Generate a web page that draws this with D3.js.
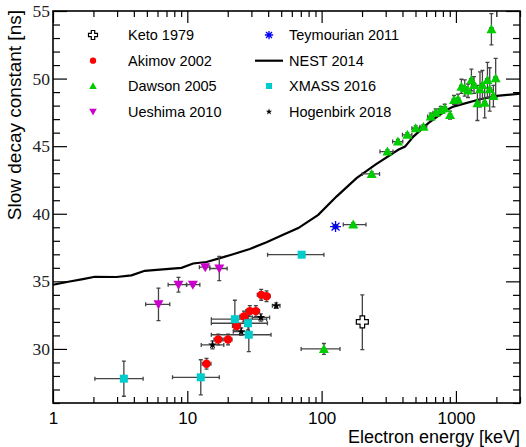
<!DOCTYPE html>
<html>
<head>
<meta charset="utf-8">
<script src="https://cdn.jsdelivr.net/npm/d3@7"></script>
<style>
  body { margin: 0; background: #fff; }
  svg { display: block; }
</style>
</head>
<body>
<div id="chart"></div>
<script>
// rows: energy [keV], tau [ns], energy low, energy high, tau low, tau high
var keto = [
    [201, 32.0, 201, 201, 29.95, 34.0]
];
var akimov = [
    [13.9, 28.9, 12.9, 15.0, 28.5, 29.3],
    [17.0, 30.7, 15.8, 18.2, 30.3, 31.1],
    [20.1, 30.7, 18.7, 21.5, 30.3, 31.1],
    [23.3, 31.7, 21.7, 24.9, 31.3, 32.1],
    [26.4, 32.4, 24.6, 28.2, 32.0, 32.8],
    [29.2, 32.8, 27.3, 31.1, 32.4, 33.2],
    [32.4, 32.8, 30.3, 34.5, 32.4, 33.2],
    [35.5, 34.0, 33.2, 37.8, 33.6, 34.4],
    [38.9, 33.9, 36.4, 41.4, 33.5, 34.3]
];
var dawson = [
    [104, 30.0, 70.4, 137, 29.6, 30.4],
    [172, 39.2, 145, 214, 39.05, 39.35],
    [236, 42.95, 201, 270, 42.8, 43.1],
    [309, 44.6, 272, 340, 44.45, 44.75],
    [370, 45.34, 338, 402, 45.15, 45.5],
    [435, 45.84, 400, 470, 45.65, 46.0],
    [502, 46.33, 470, 535, 46.15, 46.5],
    [573, 46.43, 540, 606, 46.25, 46.6],
    [649, 47.19, 615, 683, 46.95, 47.45],
    [707, 47.48, 675, 740, 47.25, 47.75],
    [771, 47.68, 740, 800, 47.4, 47.95],
    [826, 47.81, 800, 852, 47.55, 48.1],
    [904, 47.31, 880, 928, 47.0, 47.6],
    [968, 48.42, 940, 996, 48.1, 48.75],
    [1037, 48.47, 1006, 1068, 48.1, 48.85],
    [1099, 49.4, 1066, 1132, 48.9, 49.95],
    [1163, 49.29, 1128, 1198, 48.7, 49.9],
    [1231, 49.11, 1194, 1268, 48.6, 49.6],
    [1304, 49.9, 1265, 1343, 49.1, 50.7],
    [1364, 49.53, 1323, 1405, 48.9, 50.15],
    [1445, 48.18, 1402, 1488, 46.9, 49.5],
    [1511, 49.21, 1466, 1556, 47.9, 50.5],
    [1575, 49.53, 1528, 1622, 48.5, 50.6],
    [1638, 48.22, 1589, 1687, 47.1, 49.3],
    [1717, 49.9, 1666, 1768, 48.6, 51.2],
    [1785, 49.21, 1731, 1839, 47.6, 50.8],
    [1838, 53.65, 1783, 1893, 52.5, 54.8],
    [1901, 48.72, 1844, 1958, 47.9, 49.5],
    [1977, 50.03, 1918, 2036, 48.6, 51.5]
];
var ueshima = [
    [6.1, 33.3, 4.9, 7.4, 32.1, 34.5],
    [8.6, 34.75, 7.2, 9.9, 34.2, 35.3],
    [11.0, 34.75, 9.85, 12.4, 34.65, 34.85],
    [13.6, 36.05, 12.3, 14.7, 35.95, 36.15],
    [17.3, 35.95, 14.7, 19.8, 35.05, 36.85]
];
var teymourian = [
    [127, 39.05, 122, 132, 38.9, 39.2]
];
var xmass = [
    [3.37, 27.8, 2.05, 4.69, 26.5, 29.1],
    [12.6, 27.9, 7.76, 17.3, 26.6, 29.2],
    [22.6, 32.2, 15.1, 39.0, 31.4, 33.6],
    [28.3, 31.9, 15.1, 39.5, 31.4, 32.5],
    [28.7, 31.05, 15.1, 42.0, 29.8, 31.8],
    [71, 36.97, 39.6, 104, 36.8, 37.15]
];
var hogenbirk = [
    [15.4, 30.3, 12.7, 18.7, 30.0, 30.6],
    [25.2, 31.28, 22.0, 29.0, 31.0, 31.55],
    [35.3, 32.33, 30.5, 41.0, 32.05, 32.6],
    [45.9, 33.2, 43.0, 49.0, 33.0, 33.4]
];

// NEST 2014 curve
var nest_E = [1, 1.33, 1.67, 2.05, 2.97, 3.84, 4.82, 6.24, 9.05, 11.05, 13.9, 17.5, 21.3, 29.2, 38.9,
              51.7, 67, 94.4, 129, 182, 250, 372, 418, 482, 623, 853, 957, 1513, 2015, 3000];
var nest_tau = [34.75, 34.99, 35.17, 35.34, 35.32, 35.44, 35.78, 35.86, 36.0, 36.32, 36.43, 36.72, 36.97, 37.39, 37.9,
                38.44, 38.94, 39.92, 41.27, 42.63, 43.62, 44.73, 44.97, 45.71, 46.7, 47.68, 47.93, 48.47, 48.72, 48.88];

var xMajor = [1, 10, 100, 1000];
var yMajor = [30, 35, 40, 45, 50, 55];

// Chart dimension
var margin = {top: 11, right: 6, bottom: 44, left: 53};
var width = 526 - margin.left - margin.right;
var height = 447 - margin.top - margin.bottom;

var svg = d3.select("#chart")
    .append("svg")
    .attr("width", 526)
    .attr("height", 447);

var g = svg.append("g").attr("transform", "translate(" + margin.left + "," + margin.top + ")");

var x = d3.scaleLog().domain([1, 3000]).range([0, width]);
var y = d3.scaleLinear().domain([26, 55]).range([height, 0]);

// minor tick values
var xMinor = [];
[1, 10, 100, 1000].forEach(function(dec) {
    for (var i = 2; i <= 9; i++) {
        if (dec * i <= 3000) xMinor.push(dec * i);
    }
});
var yMinor = d3.range(26, 56).filter(function(v) { return v % 5 != 0; });

function style_axis(sel) {
    sel.select(".domain").remove();
    sel.selectAll(".tick line").attr("stroke", "#000").attr("stroke-width", 1.2);
}

// X axis bottom
g.append("g").attr("transform", "translate(0," + height + ")")
    .call(d3.axisBottom(x).tickValues(xMinor).tickSize(-6).tickFormat(""))
    .call(style_axis);
g.append("g").attr("transform", "translate(0," + height + ")")
    .call(d3.axisBottom(x).tickValues(xMajor).tickSize(-12).tickPadding(9).tickFormat(d3.format("d")))
    .call(style_axis)
    .selectAll("text")
    .attr("font-family", "'Liberation Sans', Arial, sans-serif")
    .attr("font-size", "17px")
    .attr("fill", "#000");
// X axis top (mirror)
g.append("g")
    .call(d3.axisTop(x).tickValues(xMinor).tickSize(-6).tickFormat(""))
    .call(style_axis);
g.append("g")
    .call(d3.axisTop(x).tickValues(xMajor).tickSize(-12).tickFormat(""))
    .call(style_axis);

// Y axis left
g.append("g")
    .call(d3.axisLeft(y).tickValues(yMinor).tickSize(-7).tickFormat(""))
    .call(style_axis);
g.append("g")
    .call(d3.axisLeft(y).tickValues(yMajor).tickSize(-14).tickPadding(3).tickFormat(d3.format("d")))
    .call(style_axis)
    .selectAll("text")
    .attr("font-family", "'Liberation Serif', 'Times New Roman', serif")
    .attr("font-size", "17.5px")
    .attr("fill", "#222");
// Y axis right (mirror)
g.append("g").attr("transform", "translate(" + width + ",0)")
    .call(d3.axisRight(y).tickValues(yMinor).tickSize(-7).tickFormat(""))
    .call(style_axis);
g.append("g").attr("transform", "translate(" + width + ",0)")
    .call(d3.axisRight(y).tickValues(yMajor).tickSize(-14).tickFormat(""))
    .call(style_axis);

// Axis titles
svg.append("text")
    .attr("x", 520).attr("y", 443)
    .attr("text-anchor", "end")
    .attr("font-family", "'Liberation Sans', Arial, sans-serif")
    .attr("font-size", "18px")
    .text("Electron energy [keV]");
svg.append("text")
    .attr("transform", "translate(21,10) rotate(-90)")
    .attr("text-anchor", "end")
    .attr("font-family", "'Liberation Sans', Arial, sans-serif")
    .attr("font-size", "19px")
    .text("Slow decay constant [ns]");

// NEST line
var line = d3.line()
    .x(function(d, i) { return x(nest_E[i]); })
    .y(function(d, i) { return y(nest_tau[i]); });
g.append("path")
    .datum(nest_E)
    .attr("d", line)
    .attr("fill", "none")
    .attr("stroke", "#000")
    .attr("stroke-width", 2.2);

/*
  Marker shapes (ROOT-like), drawn as paths around (0,0)
*/
function marker_path(kind, s) {
    switch (kind) {
        case "circle":
            return d3.symbol().type(d3.symbolCircle).size(Math.PI * s * s)();
        case "square":
            return "M" + (-s) + "," + (-s) + "h" + (2 * s) + "v" + (2 * s) + "h" + (-2 * s) + "Z";
        case "tri_up":
            return "M0," + (-s) + "L" + s + "," + (s * 0.8) + "L" + (-s) + "," + (s * 0.8) + "Z";
        case "tri_down":
            return "M0," + s + "L" + s + "," + (-s * 0.8) + "L" + (-s) + "," + (-s * 0.8) + "Z";
        case "cross":
            var a = s * 0.38;
            return "M" + (-a) + "," + (-s) + "h" + (2 * a) + "v" + (s - a) + "h" + (s - a) + "v" + (2 * a) +
                   "h" + (a - s) + "v" + (s - a) + "h" + (-2 * a) + "v" + (a - s) + "h" + (a - s) +
                   "v" + (-2 * a) + "h" + (s - a) + "Z";
        case "star":
            return d3.symbol().type(d3.symbolStar).size(s * s * 1.1)();
        case "asterisk":
            var d = s * 0.72;
            return "M" + (-s) + ",0H" + s + "M0," + (-s) + "V" + s +
                   "M" + (-d) + "," + (-d) + "L" + d + "," + d + "M" + (-d) + "," + d + "L" + d + "," + (-d);
    }
}

function draw_marker(sel, kind, color, s) {
    var p = sel.append("path").attr("d", marker_path(kind, s));
    if (kind == "asterisk") {
        p.attr("fill", "none").attr("stroke", color).attr("stroke-width", 1.3);
    } else if (kind == "cross") {
        p.attr("fill", "#fff").attr("stroke", color).attr("stroke-width", 1.2);
    } else {
        p.attr("fill", color);
    }
    return p;
}

var series = [
    {name: "Keto 1979", data: keto, kind: "cross", color: "#000", size: 6},
    {name: "Akimov 2002", data: akimov, kind: "circle", color: "#ff0000", size: 4.2},
    {name: "Dawson 2005", data: dawson, kind: "tri_up", color: "#00cc00", size: 5},
    {name: "Ueshima 2010", data: ueshima, kind: "tri_down", color: "#cc00cc", size: 5},
    {name: "Teymourian 2011", data: teymourian, kind: "asterisk", color: "#0000ff", size: 5.5},
    {name: "XMASS 2016", data: xmass, kind: "square", color: "#00cccc", size: 4},
    {name: "Hogenbirk 2018", data: hogenbirk, kind: "star", color: "#000", size: 4.6}
];

// Error bars
var errG = g.append("g")
    .attr("stroke", "#444")
    .attr("stroke-width", 1.3)
    .attr("fill", "none");
var cap = 2;
series.forEach(function(s) {
    s.data.forEach(function(d) {
        var cx = x(d[0]), cy = y(d[1]);
        var x0 = x(d[2]), x1 = x(d[3]);
        var y0 = y(d[4]), y1 = y(d[5]);
        var path = "";
        if (x1 - x0 > 1) {
            path += "M" + x0 + "," + cy + "H" + x1;
            path += "M" + x0 + "," + (cy - cap) + "V" + (cy + cap);
            path += "M" + x1 + "," + (cy - cap) + "V" + (cy + cap);
        }
        if (y0 - y1 > 1) {
            path += "M" + cx + "," + y0 + "V" + y1;
            path += "M" + (cx - cap) + "," + y0 + "H" + (cx + cap);
            path += "M" + (cx - cap) + "," + y1 + "H" + (cx + cap);
        }
        if (path) errG.append("path").attr("d", path);
    });
});

// Markers
series.forEach(function(s) {
    var sg = g.append("g");
    s.data.forEach(function(d) {
        draw_marker(sg.append("g").attr("transform", "translate(" + x(d[0]) + "," + y(d[1]) + ")"),
            s.kind, s.color, s.size);
    });
});

// Legend
var legendPos = [
    [93, 35], [93, 60.7], [93, 86], [93, 111.7],
    [269, 35], [269, 60.7], [269, 86], [269, 111.7]
];
var legendItems = ["Keto 1979", "Akimov 2002", "Dawson 2005", "Ueshima 2010",
                   "Teymourian 2011", "NEST 2014", "XMASS 2016", "Hogenbirk 2018"];
legendItems.forEach(function(name, i) {
    var px = legendPos[i][0], py = legendPos[i][1];
    var lg = svg.append("g").attr("transform", "translate(" + px + "," + py + ")");
    if (name == "NEST 2014") {
        lg.append("line").attr("x1", -14).attr("x2", 14)
            .attr("stroke", "#000").attr("stroke-width", 2.2);
    } else {
        var s = series.filter(function(t) { return t.name == name; })[0];
        draw_marker(lg, s.kind, s.color, s.size * 0.75);
    }
    svg.append("text")
        .attr("x", px + (i < 4 ? 35 : 20))
        .attr("y", py + 5.3)
        .attr("font-family", "'Liberation Sans', Arial, sans-serif")
        .attr("font-size", "14.5px")
        .text(name);
});

// Frame
g.append("rect")
    .attr("width", width)
    .attr("height", height)
    .attr("fill", "none")
    .attr("stroke", "#000")
    .attr("stroke-width", 1.6);
</script>
</body>
</html>
